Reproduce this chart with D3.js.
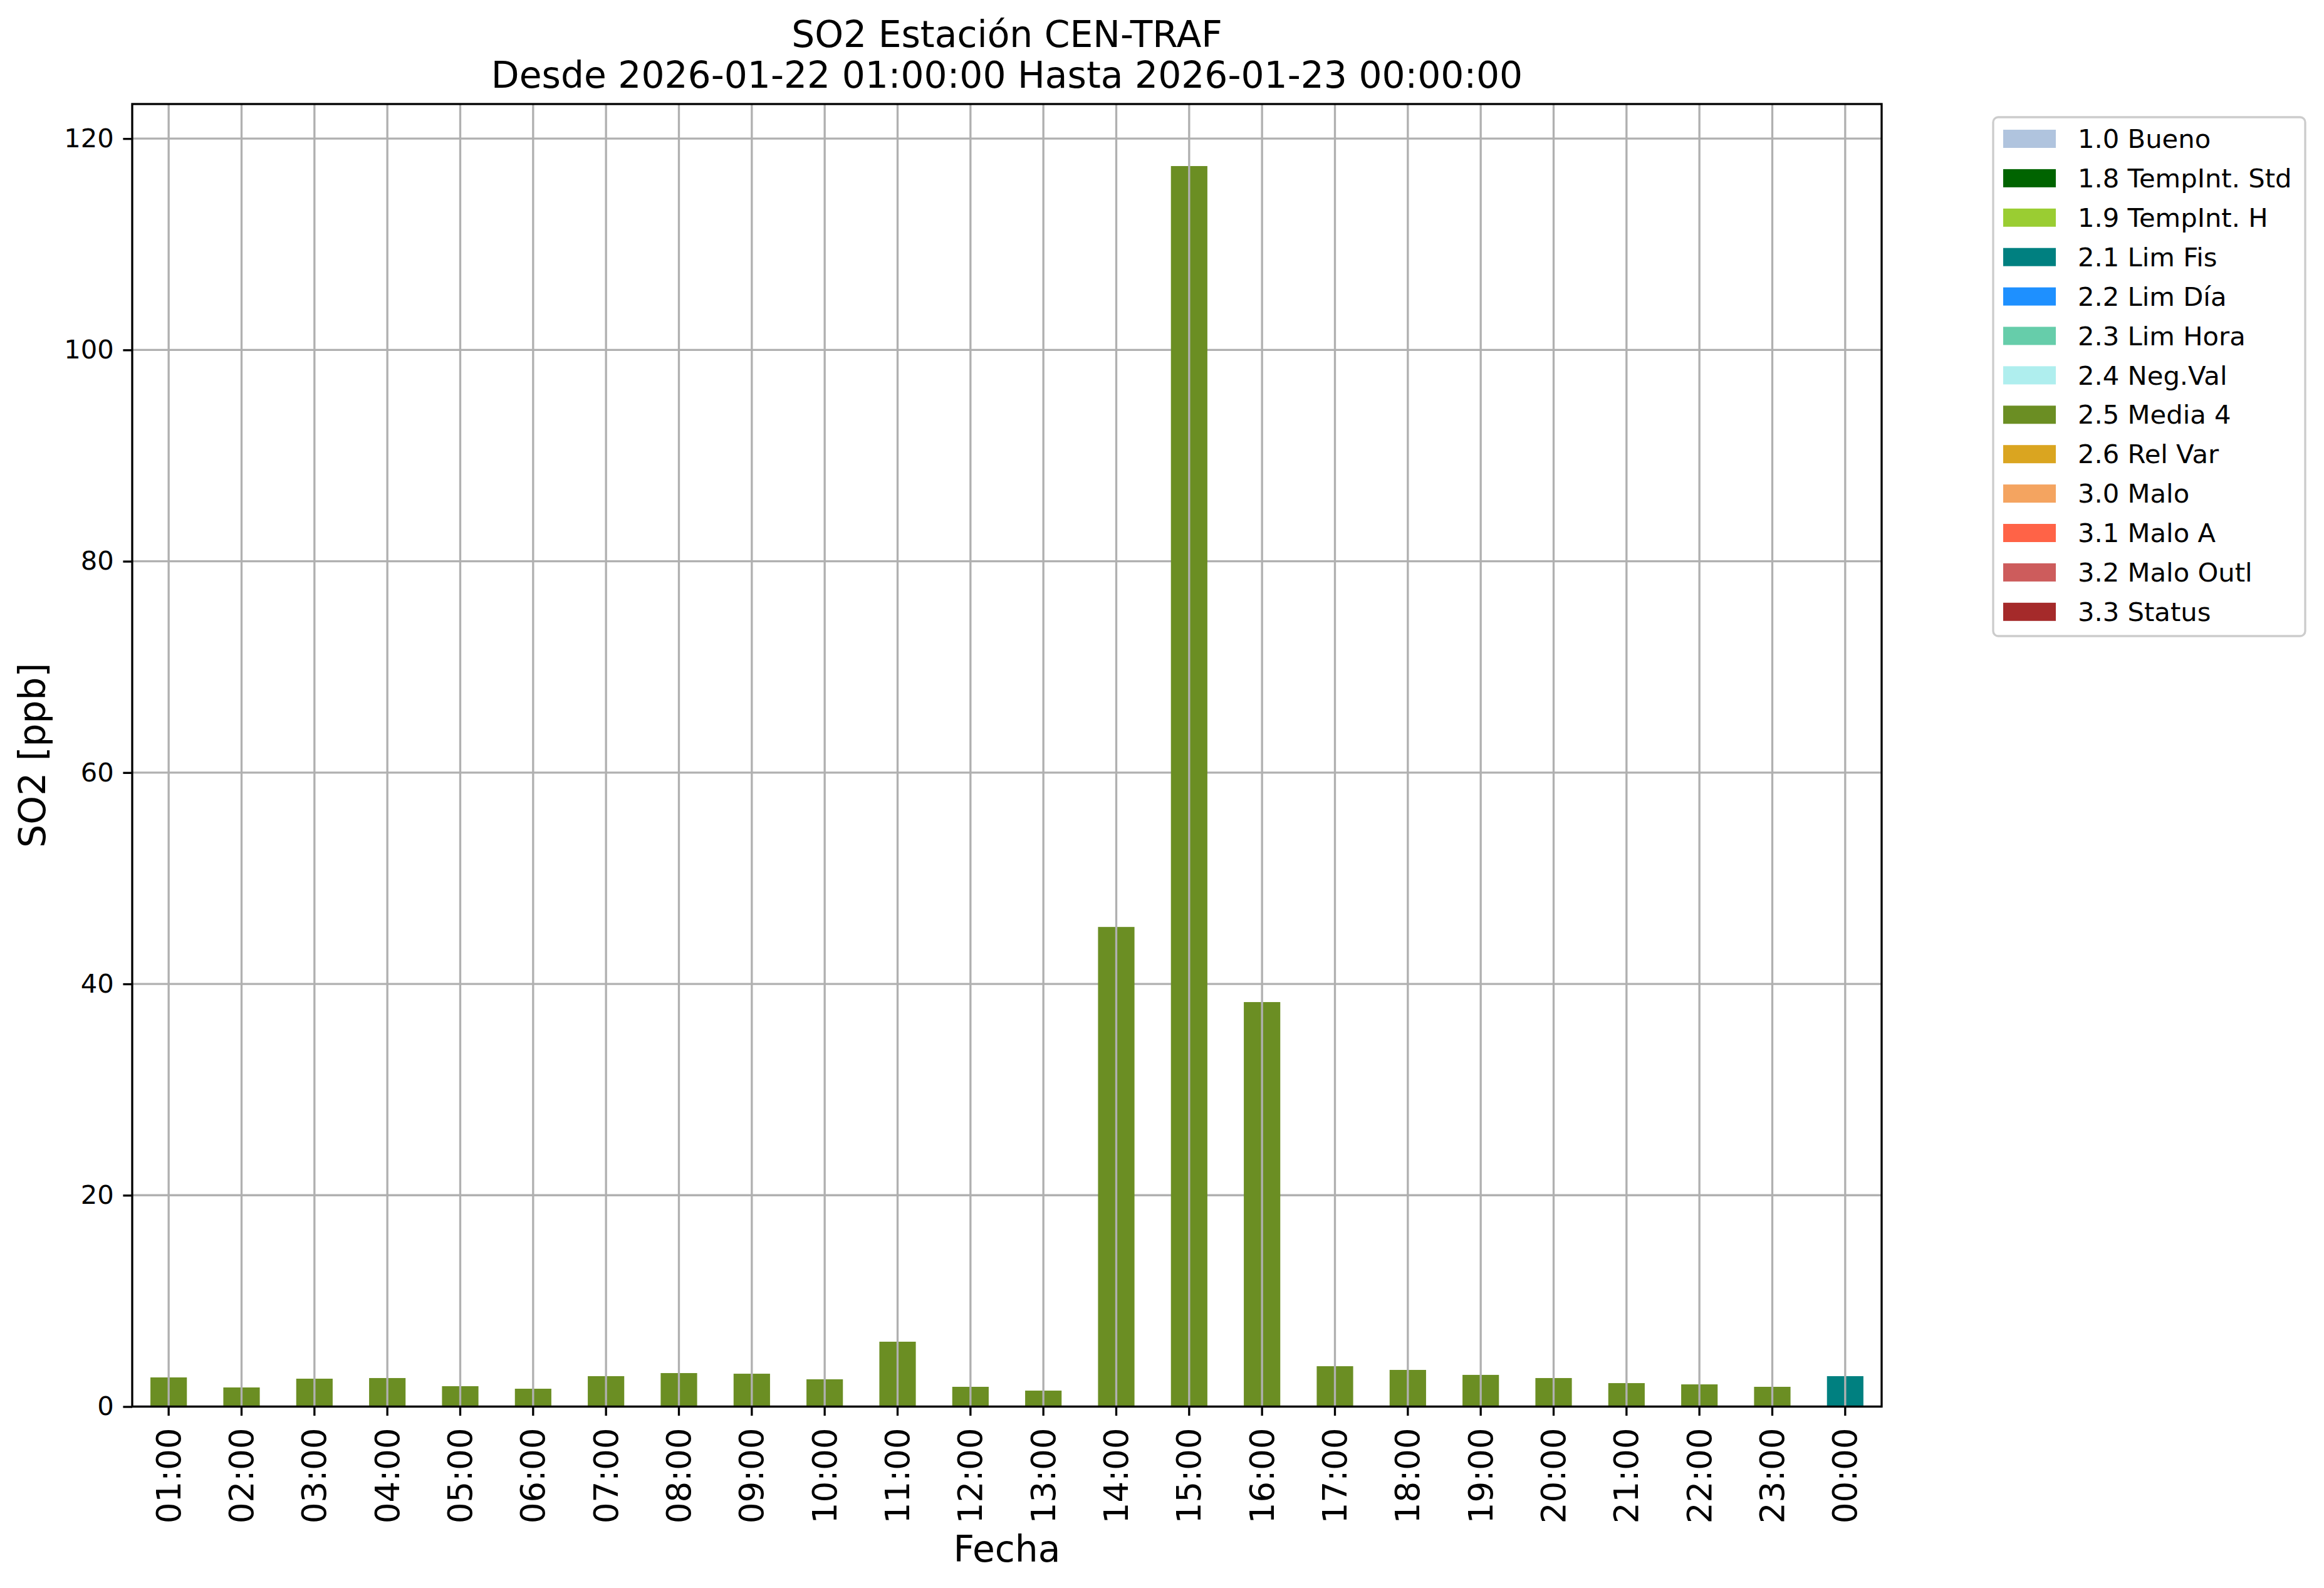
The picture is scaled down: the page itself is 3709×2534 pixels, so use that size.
<!DOCTYPE html>
<html>
<head>
<meta charset="utf-8">
<script src="https://cdn.jsdelivr.net/npm/d3@7"></script>
<style>
  body { margin: 0; background: #fff; }
  text { font-family: "DejaVu Sans", sans-serif; }
</style>
</head>
<body>
<div id="chart"></div>
<script>
var w = 3709,
    h = 2534;

// hourly values (ppb) and the quality flag of each hour
var hours = ["01:00","02:00","03:00","04:00","05:00","06:00","07:00","08:00","09:00","10:00","11:00","12:00",
             "13:00","14:00","15:00","16:00","17:00","18:00","19:00","20:00","21:00","22:00","23:00","00:00"];
var values = [2.76, 1.81, 2.64, 2.70, 1.93, 1.69, 2.88, 3.17, 3.11, 2.58, 6.14, 1.87,
              1.51, 45.39, 117.4, 38.28, 3.82, 3.47, 3.00, 2.70, 2.22, 2.10, 1.87, 2.88];
var flags = ["2.5","2.5","2.5","2.5","2.5","2.5","2.5","2.5","2.5","2.5","2.5","2.5",
             "2.5","2.5","2.5","2.5","2.5","2.5","2.5","2.5","2.5","2.5","2.5","2.1"];

var flagCodes = ["1.0","1.8","1.9","2.1","2.2","2.3","2.4","2.5","2.6","3.0","3.1","3.2","3.3"];
var flagNames = ["1.0 Bueno","1.8 TempInt. Std","1.9 TempInt. H","2.1 Lim Fis","2.2 Lim Día","2.3 Lim Hora",
                 "2.4 Neg.Val","2.5 Media 4","2.6 Rel Var","3.0 Malo","3.1 Malo A","3.2 Malo Outl","3.3 Status"];
var flagColors = ["lightsteelblue","darkgreen","yellowgreen","teal","dodgerblue","mediumaquamarine",
                  "paleturquoise","olivedrab","goldenrod","sandybrown","tomato","indianred","brown"];
var yTicks = [0, 20, 40, 60, 80, 100, 120];

var data = hours.map(function(d, i) { return {hour: d, value: values[i], flag: flags[i]}; });

var margin = {left: 211, right: 3003, top: 166, bottom: 2244.5};
var lw = 3.33;

var color = d3.scaleOrdinal().domain(flagCodes).range(flagColors);

var x = d3.scaleBand()
    .domain(hours)
    .range([margin.left, margin.right])
    .paddingInner(0.5)
    .paddingOuter(0.25);

var y = d3.scaleLinear()
    .domain([0, d3.max(values) * 1.05])
    .range([margin.bottom, margin.top]);

var svg = d3.select("#chart")
    .append("svg")
    .attr("width", w)
    .attr("height", h);

svg.append("rect").attr("width", w).attr("height", h).attr("fill", "#fff");

// horizontal grid
svg.append("g")
    .selectAll("line")
    .data(yTicks)
    .enter()
    .append("line")
    .attr("x1", margin.left).attr("x2", margin.right)
    .attr("y1", function(d) { return y(d); })
    .attr("y2", function(d) { return y(d); })
    .attr("stroke", "#b0b0b0")
    .attr("stroke-width", lw);

// bars
svg.append("g")
    .selectAll("rect")
    .data(data)
    .enter()
    .append("rect")
    .attr("x", function(d) { return x(d.hour); })
    .attr("width", x.bandwidth())
    .attr("y", function(d) { return y(d.value); })
    .attr("height", function(d) { return y(0) - y(d.value); })
    .attr("fill", function(d) { return color(d.flag); });

// vertical grid (drawn over the bars)
svg.append("g")
    .selectAll("line")
    .data(hours)
    .enter()
    .append("line")
    .attr("x1", function(d) { return x(d) + x.bandwidth() / 2; })
    .attr("x2", function(d) { return x(d) + x.bandwidth() / 2; })
    .attr("y1", margin.top).attr("y2", margin.bottom)
    .attr("stroke", "#b0b0b0")
    .attr("stroke-width", lw);

// axes
var xAxis = d3.axisBottom(x).tickSize(14.6).tickPadding(14.6);
var gx = svg.append("g")
    .attr("transform", "translate(0," + margin.bottom + ")")
    .call(xAxis);
gx.select(".domain").remove();
gx.selectAll(".tick line").attr("stroke", "#000").attr("stroke-width", lw);
gx.selectAll(".tick text")
    .attr("font-size", 53)
    .attr("fill", "#000")
    .attr("transform", "rotate(-90)")
    .attr("text-anchor", "end")
    .attr("x", -34)
    .attr("y", 0)
    .attr("dy", "0.35em");

var yAxis = d3.axisLeft(y).tickValues(yTicks).tickSize(14.6).tickPadding(14.6).tickFormat(d3.format("d"));
var gy = svg.append("g")
    .attr("transform", "translate(" + margin.left + ",0)")
    .call(yAxis);
gy.select(".domain").remove();
gy.selectAll(".tick line").attr("stroke", "#000").attr("stroke-width", lw);
gy.selectAll(".tick text").attr("font-size", 41.7).attr("fill", "#000");

// frame
svg.append("rect")
    .attr("x", margin.left).attr("y", margin.top)
    .attr("width", margin.right - margin.left)
    .attr("height", margin.bottom - margin.top)
    .attr("fill", "none")
    .attr("stroke", "#000")
    .attr("stroke-width", lw);

// titles
var cx = (margin.left + margin.right) / 2;
svg.append("text").attr("x", cx).attr("y", 75).attr("text-anchor", "middle")
    .attr("font-size", 58.3).text("SO2 Estación CEN-TRAF");
svg.append("text").attr("x", cx).attr("y", 140).attr("text-anchor", "middle")
    .attr("font-size", 58.3).text("Desde 2026-01-22 01:00:00 Hasta 2026-01-23 00:00:00");

svg.append("text").attr("x", cx).attr("y", 2492).attr("text-anchor", "middle")
    .attr("font-size", 58.3).text("Fecha");
svg.append("text")
    .attr("transform", "translate(72," + ((margin.top + margin.bottom) / 2) + ") rotate(-90)")
    .attr("text-anchor", "middle")
    .attr("font-size", 58.3).text("SO2 [ppb]");

// legend
var lg = svg.append("g");
lg.append("rect")
    .attr("x", 3181).attr("y", 187)
    .attr("width", 3679 - 3181).attr("height", 1015 - 187)
    .attr("rx", 8)
    .attr("fill", "#fff")
    .attr("stroke", "#cccccc")
    .attr("stroke-width", lw);

var items = lg.selectAll("g.item")
    .data(flagCodes)
    .enter()
    .append("g")
    .attr("transform", function(d, i) { return "translate(0," + (221.5 + i * 62.9) + ")"; });
items.append("rect")
    .attr("x", 3197).attr("y", -14.5)
    .attr("width", 84).attr("height", 29)
    .attr("fill", function(d) { return color(d); });
items.append("text")
    .attr("x", 3316).attr("dy", "0.35em")
    .attr("font-size", 41.7)
    .text(function(d, i) { return flagNames[i]; });
</script>
</body>
</html>
